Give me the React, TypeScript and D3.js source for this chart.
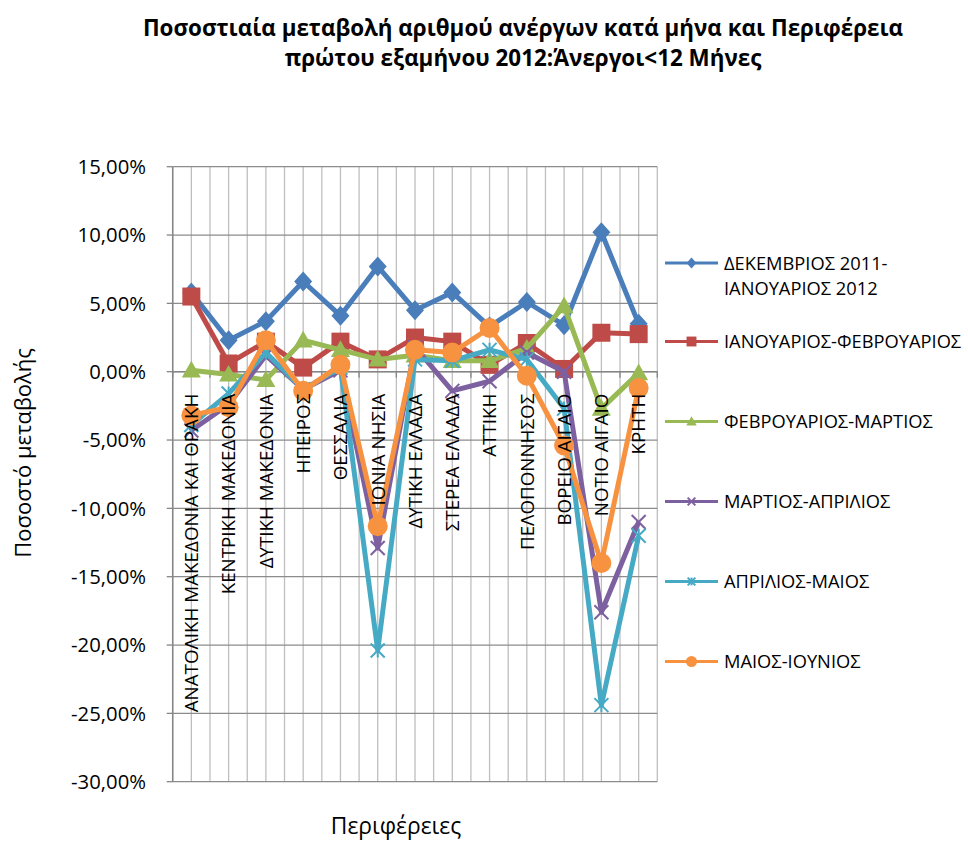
import React from "react";
import * as d3 from "d3";

const categories = [
  "ΑΝΑΤΟΛΙΚΗ ΜΑΚΕΔΟΝΙΑ ΚΑΙ ΘΡΑΚΗ",
  "ΚΕΝΤΡΙΚΗ ΜΑΚΕΔΟΝΙΑ",
  "ΔΥΤΙΚΗ ΜΑΚΕΔΟΝΙΑ",
  "ΗΠΕΙΡΟΣ",
  "ΘΕΣΣΑΛΙΑ",
  "ΙΟΝΙΑ ΝΗΣΙΑ",
  "ΔΥΤΙΚΗ ΕΛΛΑΔΑ",
  "ΣΤΕΡΕΑ ΕΛΛΑΔΑ",
  "ΑΤΤΙΚΗ",
  "ΠΕΛΟΠΟΝΝΗΣΟΣ",
  "ΒΟΡΕΙΟ ΑΙΓΑΙΟ",
  "ΝΟΤΙΟ ΑΙΓΑΙΟ",
  "ΚΡΗΤΗ",
];

const decJan = [5.8, 2.3, 3.7, 6.6, 4.1, 7.7, 4.5, 5.8, 3.3, 5.1, 3.4, 10.2, 3.5];
const janFeb = [5.5, 0.6, 2.2, 0.3, 2.2, 0.9, 2.5, 2.2, 0.5, 2.1, 0.2, 2.85, 2.75];
const febMar = [0.1, -0.2, -0.6, 2.3, 1.6, 0.9, 1.2, 0.8, 0.8, 1.7, 4.8, -2.7, -0.1];
const marApr = [-4.3, -2.4, 1.2, -1.3, 0.1, -12.9, 1.8, -1.4, -0.7, 1.4, 0.0, -17.6, -11.0];
const aprMay = [-3.9, -1.6, 1.4, -1.3, 0.3, -20.4, 0.9, 0.8, 1.6, 0.9, -2.7, -24.4, -12.0];
const mayJun = [-3.2, -2.6, 2.3, -1.4, 0.5, -11.3, 1.6, 1.4, 3.2, -0.3, -5.4, -14.0, -1.2];

const seriesNames = [
  ["ΔΕΚΕΜΒΡΙΟΣ 2011-", "ΙΑΝΟΥΑΡΙΟΣ 2012"],
  ["ΙΑΝΟΥΑΡΙΟΣ-ΦΕΒΡΟΥΑΡΙΟΣ"],
  ["ΦΕΒΡΟΥΑΡΙΟΣ-ΜΑΡΤΙΟΣ"],
  ["ΜΑΡΤΙΟΣ-ΑΠΡΙΛΙΟΣ"],
  ["ΑΠΡΙΛΙΟΣ-ΜΑΙΟΣ"],
  ["ΜΑΙΟΣ-ΙΟΥΝΙΟΣ"],
];
const seriesValues = [decJan, janFeb, febMar, marApr, aprMay, mayJun];
const seriesColors = ["#4A7EBB", "#BE4B48", "#98B954", "#7D60A0", "#46AAC5", "#F69240"];
const seriesMarkers = ["diamond", "square", "triangle", "x", "star", "circle"];

const yTicks = [15, 10, 5, 0, -5, -10, -15, -20, -25, -30];

const titleLines = [
  "Ποσοστιαία μεταβολή αριθμού ανέργων κατά μήνα και Περιφέρεια",
  "πρώτου εξαμήνου 2012:Άνεργοι<12 Μήνες",
];
const yTitle = "Ποσοστό μεταβολής";
const xTitle = "Περιφέρειες";

const W = 968;
const H = 841;
const left = 172.7;
const right = 657.3;
const top = 166.7;
const bottom = 781.7;

const locale = d3.formatLocale({ decimal: ",", thousands: ".", grouping: [3], currency: ["", "€"], minus: "-" });
const fmt = locale.format(".2f");

const FONT = "'Open Sans', 'Noto Sans', sans-serif";

function Marker({ type, x, y, color, s = 1 }: { type: string; x: number; y: number; color: string; s?: number }) {
  if (type === "diamond") {
    const h = 10 * s, w = 9 * s;
    return <polygon points={`${x},${y - h} ${x + w},${y} ${x},${y + h} ${x - w},${y}`} fill={color} />;
  }
  if (type === "square") {
    const a = 9 * s;
    return <rect x={x - a} y={y - a} width={2 * a} height={2 * a} fill={color} />;
  }
  if (type === "triangle") {
    const a = 9.5 * s;
    return <polygon points={`${x},${y - a} ${x + a},${y + a * 0.75} ${x - a},${y + a * 0.75}`} fill={color} />;
  }
  if (type === "x") {
    const a = 7 * s;
    return (
      <g stroke={color} strokeWidth={2}>
        <line x1={x - a} y1={y - a} x2={x + a} y2={y + a} />
        <line x1={x - a} y1={y + a} x2={x + a} y2={y - a} />
      </g>
    );
  }
  if (type === "star") {
    const a = 7 * s;
    return (
      <g stroke={color} strokeWidth={2}>
        <line x1={x - a} y1={y - a} x2={x + a} y2={y + a} />
        <line x1={x - a} y1={y + a} x2={x + a} y2={y - a} />
        <line x1={x} y1={y - a} x2={x} y2={y + a} />
      </g>
    );
  }
  return <circle cx={x} cy={y} r={10 * s} fill={color} />;
}

export default function App() {
  const x = d3.scaleBand<string>().domain(categories).range([left, right]);
  const y = d3.scaleLinear().domain([-30, 15]).range([bottom, top]);
  const bw = x.bandwidth();
  const cx = (c: string) => (x(c) as number) + bw / 2;

  const line = d3
    .line<number>()
    .x((_, i) => cx(categories[i]))
    .y((v) => y(v));

  const vGrid: number[] = [];
  categories.forEach((c) => {
    vGrid.push(x(c) as number);
    vGrid.push(cx(c));
  });
  vGrid.push(right);

  const legendX = 665;
  const legendY = [263, 341.5, 421.5, 501.5, 581.5, 661.5];

  return (
    <svg width={W} height={H} style={{ position: "absolute", left: 0, top: 0, background: "#fff" }}>
      <rect x={0} y={0} width={W} height={H} fill="#fff" />
      {/* title */}
      {titleLines.map((t, i) => (
        <text key={i} x={523} y={36 + i * 30} textAnchor="middle" fontFamily={FONT} fontWeight="bold" fontSize={22.4} fill="#000">
          {t}
        </text>
      ))}
      {/* grid */}
      {vGrid.map((gx, i) => (
        <line key={"v" + i} x1={gx} x2={gx} y1={top} y2={bottom} stroke="#BFBFBF" strokeWidth={1.3} />
      ))}
      {yTicks.map((t) => (
        <line key={"h" + t} x1={left} x2={right} y1={y(t)} y2={y(t)} stroke="#8C8C8C" strokeWidth={1.3} />
      ))}
      {/* y axis */}
      <line x1={left} x2={left} y1={top} y2={bottom} stroke="#868686" strokeWidth={1.5} />
      {yTicks.map((t) => (
        <g key={"yt" + t}>
          <line x1={left - 6} x2={left} y1={y(t)} y2={y(t)} stroke="#868686" strokeWidth={1.3} />
          <text x={146} y={y(t)} dy="0.36em" textAnchor="end" fontFamily={FONT} fontSize={20.3} fill="#000">
            {fmt(t) + "%"}
          </text>
        </g>
      ))}
      {/* category axis at 0 */}
      <line x1={left} x2={right} y1={y(0)} y2={y(0)} stroke="#868686" strokeWidth={1.5} />
      {categories.map((c) => (
        <line key={"ct" + c} x1={x(c) as number} x2={x(c) as number} y1={y(0)} y2={y(0) + 6} stroke="#868686" strokeWidth={1.3} />
      ))}
      <line x1={right} x2={right} y1={y(0)} y2={y(0) + 6} stroke="#868686" strokeWidth={1.3} />
      {/* series */}
      {seriesValues.map((vals, si) => (
        <g key={"s" + si}>
          <path d={line(vals) as string} fill="none" stroke={seriesColors[si]} strokeWidth={5} strokeLinejoin="round" />
          {vals.map((v, i) => (
            <Marker key={i} type={seriesMarkers[si]} x={cx(categories[i])} y={y(v)} color={seriesColors[si]} />
          ))}
        </g>
      ))}
      {/* category labels on top */}
      {categories.map((c) => (
        <text
          key={"cl" + c}
          transform={`translate(${cx(c)},${y(0) + 22}) rotate(-90)`}
          textAnchor="end"
          dy="0.36em"
          fontFamily={FONT}
          fontSize={18.8}
          fill="#000"
        >
          {c}
        </text>
      ))}
      {/* axis titles */}
      <text transform={`translate(31,453) rotate(-90)`} textAnchor="middle" fontFamily={FONT} fontSize={22} fill="#000">
        {yTitle}
      </text>
      <text x={396} y={834} textAnchor="middle" fontFamily={FONT} fontSize={22.8} fill="#000">
        {xTitle}
      </text>
      {/* legend */}
      {seriesNames.map((names, si) => (
        <g key={"l" + si}>
          <line x1={legendX} x2={legendX + 53} y1={legendY[si]} y2={legendY[si]} stroke={seriesColors[si]} strokeWidth={3} />
          <Marker type={seriesMarkers[si]} x={legendX + 26.5} y={legendY[si]} color={seriesColors[si]} s={0.55} />
          {names.map((n, j) => (
            <text key={j} x={legendX + 59} y={legendY[si] + j * 25} dy="0.36em" fontFamily={FONT} fontSize={18.3} fill="#000">
              {n}
            </text>
          ))}
        </g>
      ))}
    </svg>
  );
}
